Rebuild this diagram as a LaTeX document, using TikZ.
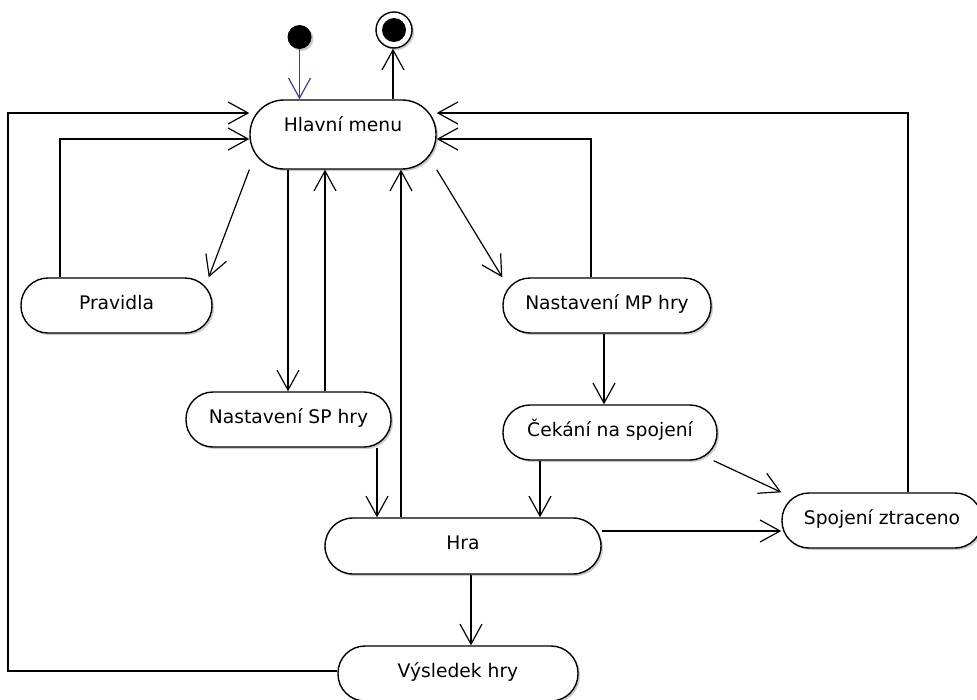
\documentclass[tikz,border=0pt]{standalone}
\usepackage{fontspec}
\setmainfont{DejaVu Sans}
\usetikzlibrary{arrows.meta,shadows}
\definecolor{initblue}{RGB}{60,60,170}
\tikzset{
  state/.style={draw=black, line width=1.4pt, fill=white, rectangle,
    rounded corners=27pt, minimum height=55pt, inner sep=0pt,
    text height=14pt, text depth=7pt,
    drop shadow={shadow xshift=2pt, shadow yshift=-2pt, fill=black!45, opacity=.45}},
  arr/.style={line width=1.2pt, -{Straight Barb[length=20pt,width=22pt,line width=1.2pt]}},
  link/.style={line width=1.2pt}
}
\begin{document}
\begin{tikzpicture}[x=1pt,y=-1pt,font=\fontsize{18.7}{22}\selectfont]
\useasboundingbox[fill=white] (0,0) rectangle (977,699);

% states
\node[state, minimum width=186pt, minimum height=69pt, rounded corners=34pt, text depth=20pt] (menu) at (343,134.5) {Hlavní menu};
\node[state, minimum width=191pt] (prav) at (116.5,305.5) {Pravidla};
\node[state, minimum width=208pt] (mp) at (607,305.5) {Nastavení MP hry};
\node[state, minimum width=214pt] (cek) at (610,432.5) {Čekání na spojení};
\node[state, minimum width=205pt] (sp) at (288.5,419.5) {Nastavení SP hry};
\node[state, minimum width=276pt, minimum height=56pt, rounded corners=28pt] (hra) at (463,546) {Hra};
\node[state, minimum width=240pt] (vys) at (458,673.5) {Výsledek hry};
\node[state, minimum width=200pt] (spoj) at (882,520.5) {Spojení ztraceno};

% initial and final pseudo-states
\node[circle, fill=black, minimum size=24pt, inner sep=0pt,
  drop shadow={shadow xshift=2pt, shadow yshift=-2pt, fill=black!45, opacity=.45}] (init) at (299.5,37) {};
\node[circle, draw=black, line width=1.4pt, fill=white, minimum size=36pt, inner sep=0pt,
  drop shadow={shadow xshift=2pt, shadow yshift=-2pt, fill=black!45, opacity=.45}] (final) at (394,30) {};
\node[circle, fill=black, minimum size=24pt, inner sep=0pt] (finaldot) at (final.center) {};

% transitions
\draw[arr, draw=initblue] (init.south) -- (menu.north -| init.south);
\draw[arr] (menu.north -| 393,0) -- (final.south -| 393,0);

\draw[arr] (vys.west |- 0,671) -- (8,671) -- (8,113) -- (menu.west |- 0,113);
\draw[arr] (prav.north -| 60,0) -- (60,139) -- (menu.west |- 0,139);
\draw[arr] (menu.south west) -- ([xshift=-4pt]prav.north east);

\draw[arr] (menu.south -| 288,0) -- (sp.north -| 288,0);
\draw[arr] (sp.north -| 325,0) -- (menu.south -| 325,0);
\draw[arr] (hra.north -| 401,0) -- (menu.south -| 401,0);
\draw[arr] (sp.south -| 377,0) -- (hra.north -| 377,0);

\draw[arr] (menu.south east) -- (mp.north west);
\draw[arr] (mp.north -| 591,0) -- (591,139) -- (menu.east |- 0,139);
\draw[arr] (spoj.north -| 908,0) -- (908,113) -- (menu.east |- 0,113);

\draw[arr] (mp.south -| 604,0) -- (cek.north -| 604,0);
\draw[arr] (cek.south -| 540,0) -- (hra.north -| 540,0);
\draw[arr] ([xshift=-4pt]cek.south east) -- (spoj.north west);
\draw[arr] (hra.east |- 0,531) -- (spoj.west |- 0,531);
\draw[arr] (hra.south -| 471,0) -- (vys.north -| 471,0);
\end{tikzpicture}
\end{document}
